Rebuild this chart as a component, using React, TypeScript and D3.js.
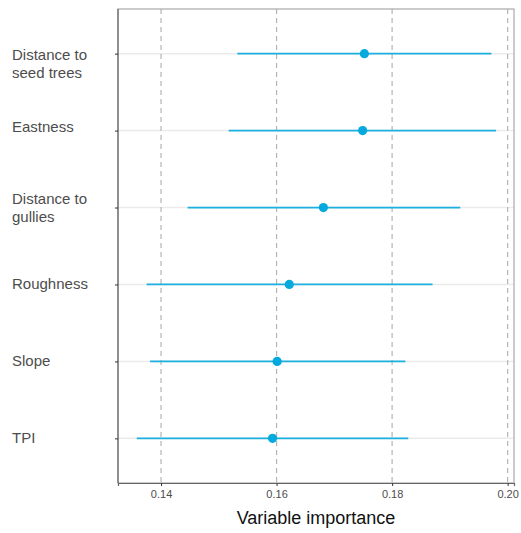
import { useEffect, useRef } from "react";
import * as d3 from "d3";

const WIDTH = 521;
const HEIGHT = 533;
const MARGIN = { top: 9, right: 7, bottom: 50, left: 118 };

// variables, top to bottom, with their importance estimate and interval
const variables = [
  ["Distance to", "seed trees"],
  ["Eastness"],
  ["Distance to", "gullies"],
  ["Roughness"],
  ["Slope"],
  ["TPI"],
];
const importance = [0.1752, 0.1749, 0.1681, 0.1622, 0.1601, 0.1593];
const lower = [0.1532, 0.1517, 0.1446, 0.1375, 0.1381, 0.1358];
const upper = [0.1972, 0.198, 0.1918, 0.187, 0.1823, 0.1828];
const xTicks = [0.14, 0.16, 0.18, 0.2];

const BLUE = "#1cb0e0";
const TEXT = "#4d4d4d";

export default function App() {
  const gRef = useRef<SVGGElement>(null);
  const boundsWidth = WIDTH - MARGIN.left - MARGIN.right;
  const boundsHeight = HEIGHT - MARGIN.top - MARGIN.bottom;

  useEffect(() => {
    const g = d3.select(gRef.current);
    g.selectAll("*").remove();

    const xScale = d3.scaleLinear().domain([0.13255, 0.2011]).range([0, boundsWidth]);
    const yScale = d3
      .scalePoint<number>()
      .domain(d3.range(variables.length))
      .range([0, boundsHeight])
      .padding(0.58);

    const rows = d3.range(variables.length);

    // horizontal grid at each variable
    g.selectAll(".hgrid")
      .data(rows)
      .join("line")
      .attr("x1", 0)
      .attr("x2", boundsWidth)
      .attr("y1", (i) => yScale(i)!)
      .attr("y2", (i) => yScale(i)!)
      .attr("stroke", "#ebebeb")
      .attr("stroke-width", 1.5);

    // dashed verticals at the x ticks
    g.selectAll(".vgrid")
      .data(xTicks)
      .join("line")
      .attr("x1", (d) => xScale(d))
      .attr("x2", (d) => xScale(d))
      .attr("y1", 0)
      .attr("y2", boundsHeight)
      .attr("stroke", "#b5b5b5")
      .attr("stroke-width", 1.2)
      .attr("stroke-dasharray", "5,4");

    // intervals
    g.selectAll(".ci")
      .data(rows)
      .join("line")
      .attr("x1", (i) => xScale(lower[i]))
      .attr("x2", (i) => xScale(upper[i]))
      .attr("y1", (i) => yScale(i)!)
      .attr("y2", (i) => yScale(i)!)
      .attr("stroke", BLUE)
      .attr("stroke-width", 1.8);

    g.selectAll(".pt")
      .data(rows)
      .join("circle")
      .attr("cx", (i) => xScale(importance[i]))
      .attr("cy", (i) => yScale(i)!)
      .attr("r", 4.6)
      .attr("fill", "#04a9dd");

    // panel border
    g.append("rect")
      .attr("x", 0)
      .attr("y", 0)
      .attr("width", boundsWidth)
      .attr("height", boundsHeight)
      .attr("fill", "none")
      .attr("stroke", "#a8a8a8")
      .attr("stroke-width", 1.2);

    // bottom axis
    const xAxis = g
      .append("g")
      .attr("transform", `translate(0,${boundsHeight})`)
      .call(
        d3
          .axisBottom(xScale)
          .tickValues(xTicks)
          .tickSize(3)
          .tickFormat(d3.format(".2f"))
      );
    xAxis.select(".domain").attr("stroke", "#666").attr("stroke-width", 1.2);
    xAxis.selectAll(".tick line").attr("stroke", "#333");
    xAxis
      .selectAll(".tick text")
      .attr("fill", TEXT)
      .attr("font-size", 11)
      .attr("font-family", "Liberation Sans, Arial, sans-serif")
      .attr("dy", "0.75em")
      .attr("y", 7);

    // left axis: only line and ticks, labels drawn separately
    const yAxis = g
      .append("g")
      .call(d3.axisLeft(yScale).tickSize(3).tickFormat(() => ""));
    yAxis.select(".domain").attr("stroke", "#666").attr("stroke-width", 1.2).attr("d", `M0,0V${boundsHeight}`);
    yAxis.selectAll(".tick line").attr("stroke", "#333");

    // variable labels, left aligned
    const labelNudge = [10, -4, 0, 0, 0, 0];
    const lineGap = 18;
    const labels = g
      .selectAll(".lab")
      .data(rows)
      .join("text")
      .attr("x", 12 - MARGIN.left)
      .attr(
        "y",
        (i) =>
          yScale(i)! + 5 - ((variables[i].length - 1) * lineGap) / 2 + labelNudge[i]
      )
      .attr("fill", TEXT)
      .attr("font-size", 15)
      .attr("font-family", "Liberation Sans, Arial, sans-serif");
    labels
      .selectAll("tspan")
      .data((i) => variables[i])
      .join("tspan")
      .attr("x", 12 - MARGIN.left)
      .attr("dy", (_, j) => (j === 0 ? 0 : lineGap))
      .text((d) => d);

    g.append("text")
      .attr("x", boundsWidth / 2)
      .attr("y", boundsHeight + 41)
      .attr("text-anchor", "middle")
      .attr("fill", "#111")
      .attr("font-size", 18)
      .attr("font-family", "Liberation Sans, Arial, sans-serif")
      .text("Variable importance");
  }, [boundsWidth, boundsHeight]);

  return (
    <svg
      width={WIDTH}
      height={HEIGHT}
      style={{ position: "absolute", left: 0, top: 0, background: "#fff" }}
    >
      <g ref={gRef} transform={`translate(${MARGIN.left},${MARGIN.top})`} />
    </svg>
  );
}
